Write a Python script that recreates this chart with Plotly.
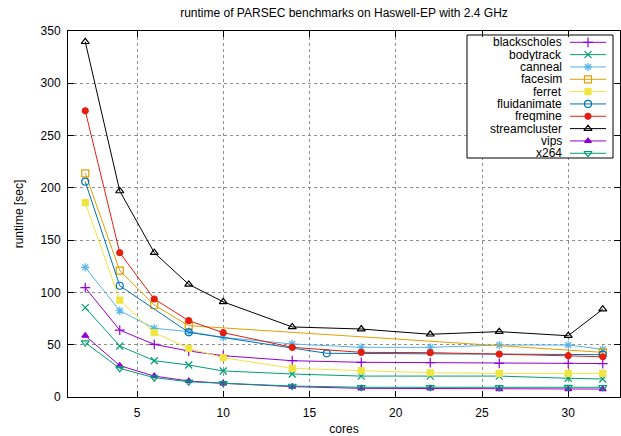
import plotly.graph_objects as go

cores = [2, 4, 6, 8, 10, 14, 18, 22, 26, 30, 32]
cores_pow2 = [2, 4, 8, 16, 32]
cores_facesim = [2, 4, 6, 8, 32]

blackscholes = [104.5, 64, 50.3, 44, 39.5, 34.7, 33.2, 32.8, 32.2, 32.2, 32]
bodytrack = [85.4, 48.8, 34.7, 30.6, 24.9, 22, 20, 20, 20, 17.9, 17.2]
canneal = [124, 82.5, 65.7, 62.5, 57, 50.7, 47.5, 47.5, 49.7, 49.7, 45.6]
facesim = [213.9, 120.8, 88, 68.2, 42.7]
ferret = [185.8, 92.7, 61.5, 46.5, 37.6, 27.4, 25.2, 23.2, 22.6, 22.6, 22.6]
fluidanimate = [205.9, 106.4, 61.8, 41.8, 40.5]
freqmine = [273.7, 138, 93.7, 73, 61.5, 47.5, 42.7, 42.4, 41, 39.5, 38.5]
streamcluster = [339.7, 197, 138, 107.7, 91, 67, 65, 60, 62.5, 58.6, 84]
vips = [58.6, 30, 20, 15.3, 13.1, 9.9, 8.3, 8.3, 7.6, 7.6, 7.6]
x264 = [52, 27.4, 18.5, 14.6, 13.1, 10.5, 9.3, 9.3, 9.3, 9.5, 9.3]

series = [
    ("blackscholes", cores, blackscholes, "#9400d3", "cross-thin-open"),
    ("bodytrack", cores, bodytrack, "#009e73", "x-thin-open"),
    ("canneal", cores, canneal, "#56b4e9", "asterisk-open"),
    ("facesim", cores_facesim, facesim, "#e69f00", "square-open"),
    ("ferret", cores, ferret, "#f0e442", "square"),
    ("fluidanimate", cores_pow2, fluidanimate, "#0072b2", "circle-open"),
    ("freqmine", cores, freqmine, "#e51e10", "circle"),
    ("streamcluster", cores, streamcluster, "#000000", "triangle-up-open"),
    ("vips", cores, vips, "#9400d3", "triangle-up"),
    ("x264", cores, x264, "#009e73", "triangle-down-open"),
]

W, H = 621, 436
L, R, T, B = 68, 1, 31, 39
PX0, PX1, PY0, PY1 = L, W - R, T, H - B  # plot area in pixels

fig = go.Figure()


def msize(sym):
    return 6 if sym in ("square", "circle", "triangle-up") else 7


for name, xs, ys, color, sym in series:
    fig.add_trace(go.Scatter(
        x=xs, y=ys, name=name, mode="lines+markers", showlegend=False,
        line=dict(color=color, width=1),
        marker=dict(symbol=sym, size=msize(sym), color=color,
                    line=dict(color=color, width=1.2)),
    ))

# --- gnuplot-style key (text right-aligned, sample on the right) ---
key_left, key_right, key_top, key_bottom = 467, 613, 35, 158
row0, row_step = 42.3, 12.33
txt_x, ln_x0, ln_x1 = 563, 570, 606


def px_to_x(px):
    return 1 + (px - PX0) / (PX1 - PX0) * 32


def py_to_y(py):
    return (PY1 - py) / (PY1 - PY0) * 350


fig.add_shape(type="rect", xref="x", yref="y", layer="between",
              x0=px_to_x(key_left), x1=px_to_x(key_right),
              y0=py_to_y(key_bottom), y1=py_to_y(key_top),
              fillcolor="white", line=dict(color="black", width=1))

for i, (name, xs, ys, color, sym) in enumerate(series):
    ry = row0 + i * row_step
    fig.add_shape(type="line", xref="x2", yref="y2", x0=ln_x0, x1=ln_x1,
                  y0=ry, y1=ry, line=dict(color=color, width=1))
    fig.add_trace(go.Scatter(
        x=[(ln_x0 + ln_x1) / 2], y=[ry], xaxis="x2", yaxis="y2",
        mode="markers", showlegend=False, hoverinfo="skip",
        marker=dict(symbol=sym, size=msize(sym), color=color,
                    line=dict(color=color, width=1.2)),
    ))
    fig.add_annotation(x=txt_x, y=ry, xref="x2", yref="y2", text=name,
                       showarrow=False, xanchor="right", yanchor="middle",
                       height=12, valign="middle", borderpad=0,
                       font=dict(size=12, color="black"))

axis_common = dict(
    showline=True, linecolor="black", linewidth=1, mirror="allticks",
    ticks="inside", ticklen=6, tickcolor="black",
    showgrid=True, gridcolor="#909090", griddash="dot", gridwidth=1,
    zeroline=False, tickfont=dict(size=12, color="black"),
)

fig.update_layout(
    width=W, height=H,
    margin=dict(l=L, r=R, t=T, b=B),
    paper_bgcolor="white", plot_bgcolor="white",
    font=dict(family="Liberation Sans, Arial, sans-serif", color="black", size=12),
    title=dict(text="runtime of PARSEC benchmarks on Haswell-EP with 2.4 GHz",
               x=(PX0 + PX1) / 2 / W, xanchor="center",
               y=1 - 13 / H, yanchor="middle",
               font=dict(size=12)),
    xaxis=dict(range=[1, 33], tickvals=[5, 10, 15, 20, 25, 30],
               ticklabelstandoff=5,
               title=dict(text="cores", standoff=6, font=dict(size=12)),
               **axis_common),
    yaxis=dict(range=[0, 350], tickvals=list(range(0, 351, 50)),
               ticklabelstandoff=4,
               title=dict(text="runtime [sec]", standoff=14, font=dict(size=12)),
               **axis_common),
    xaxis2=dict(overlaying="x", anchor="y2", range=[PX0, PX1], visible=False,
                fixedrange=True),
    yaxis2=dict(overlaying="y", anchor="x2", range=[PY1, PY0], visible=False,
                fixedrange=True),
    showlegend=False,
)

fig.write_html(
    "out.html",
    config={"displayModeBar": False},
    post_script="document.body.style.margin='0';document.body.style.overflow='hidden';",
)
